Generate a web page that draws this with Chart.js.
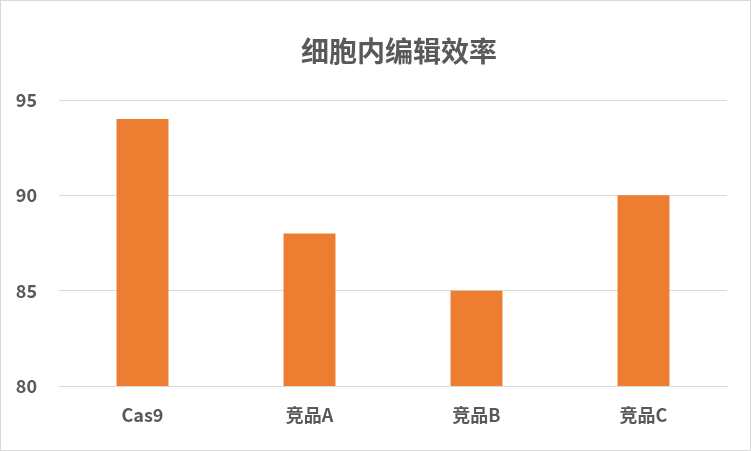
<!DOCTYPE html>
<html>
<head>
<meta charset="utf-8">
<script src="https://cdn.jsdelivr.net/npm/chart.js@4/dist/chart.umd.min.js"></script>
<style>
  html, body { margin: 0; padding: 0; background: #fff; }
  #wrap { width: 751px; height: 451px; box-sizing: border-box; border: 1px solid #d9d9d9; }
  canvas { display: block; }
</style>
</head>
<body>
<div id="wrap"><canvas id="chart" width="749" height="449"></canvas></div>
<script>
// 数据
const categories = ['Cas9', '竞品A', '竞品B', '竞品C'];
const efficiency = [94, 88, 85, 90];
const yTicks = [80, 85, 90, 95];
const chartTitle = '细胞内编辑效率';

const FONT = '"Noto Sans CJK SC", "Noto Sans", sans-serif';
const TEXT_COLOR = '#595959';
const GRID_COLOR = '#d9d9d9';

// 标题居中于整张图（不是绘图区）
const titlePlugin = {
  id: 'centerTitle',
  afterDraw(chart) {
    const ctx = chart.ctx;
    ctx.save();
    ctx.fillStyle = TEXT_COLOR;
    ctx.font = `bold 28px ${FONT}`;
    ctx.textAlign = 'center';
    ctx.textBaseline = 'middle';
    ctx.fillText(chartTitle, 398, 50);
    ctx.restore();
  },
};

new Chart(document.getElementById('chart'), {
  type: 'bar',
  data: {
    labels: categories,
    datasets: [{
      data: efficiency,
      backgroundColor: '#ed7d31',
      barPercentage: 0.311,
      categoryPercentage: 1,
    }],
  },
  options: {
    responsive: false,
    animation: false,
    layout: { padding: { left: 0, right: 23, top: 99, bottom: 0 } },
    plugins: {
      legend: { display: false },
      tooltip: { enabled: false },
      title: { display: false },
    },
    scales: {
      x: {
        grid: { display: false, drawTicks: false },
        border: { display: true, color: GRID_COLOR, width: 1 },
        ticks: { color: TEXT_COLOR, padding: 18, font: { family: FONT, size: 18, weight: 'bold' } },
        afterFit: (s) => { s.height = 64; },
      },
      y: {
        min: 80,
        max: 95,
        afterBuildTicks: (s) => { s.ticks = yTicks.map(v => ({ value: v })); },
        grid: { color: GRID_COLOR, lineWidth: 1, drawTicks: false },
        border: { display: false },
        ticks: { color: TEXT_COLOR, padding: 22, font: { family: FONT, size: 18, weight: 'bold' } },
        afterFit: (s) => { s.width = 58; },
      },
    },
  },
  plugins: [titlePlugin],
});
</script>
</body>
</html>
